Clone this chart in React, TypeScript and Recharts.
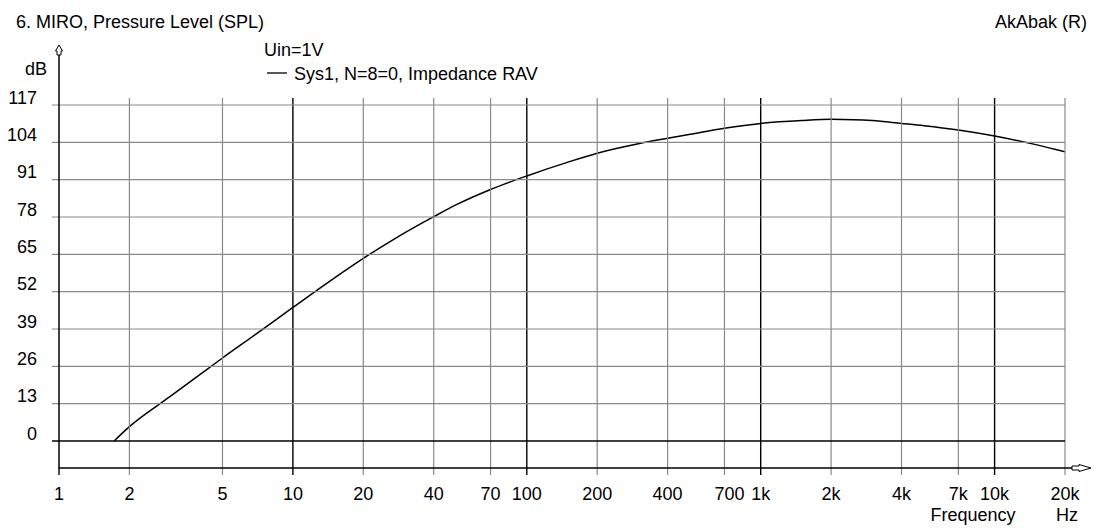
import * as React from 'react';
import { LineChart, Line, XAxis, YAxis } from 'recharts';

// frequency response (Hz, dB)
const freqs = [1.72, 2, 3, 4, 5, 7, 10, 14, 20, 28, 40, 50, 70, 100, 150, 200, 300, 400, 500, 700, 1000, 1500, 2000, 2500, 3000, 4000, 5000, 7000, 10000, 15000, 20000];
const spl = [0, 5.0, 15.6, 23.1, 28.9, 37.4, 46.5, 55.0, 63.6, 71.0, 78.1, 82.3, 87.6, 92.3, 97.1, 100.2, 103.5, 105.4, 106.8, 108.9, 110.6, 111.6, 112.0, 111.9, 111.6, 110.6, 109.8, 108.3, 106.2, 103.2, 100.7];

const xTicks = [1, 2, 5, 10, 20, 40, 70, 100, 200, 400, 700, 1000, 2000, 4000, 7000, 10000, 20000];
const xTickLabels = ['1', '2', '5', '10', '20', '40', '70', '100', '200', '400', '700', '1k', '2k', '4k', '7k', '10k', '20k'];
const decades = [10, 100, 1000, 10000];
const yTicks = [0, 13, 26, 39, 52, 65, 78, 91, 104, 117];

const data = freqs.map((f, i) => ({ f, db: spl[i] }));

const W = 1094;
const H = 528;
const LEFT = 59;
const RIGHT = 1065;
const TOP = 105;
const BOTTOM = 468;
const FONT = '"Liberation Sans", Arial, sans-serif';
const GRAY = '#8a8a8a';

const XTick = (props: any) => {
    const { x, payload } = props;
    const v = payload.value;
    const i = xTicks.indexOf(v);
    const dark = decades.includes(v);
    return (
        <g>
            {v !== 1 && <line x1={x} x2={x} y1={TOP - 7} y2={BOTTOM + 7} stroke={dark ? '#000' : GRAY} strokeWidth={dark ? 1.4 : 1.2} />}
            {v === 1 && <line x1={x} x2={x} y1={BOTTOM} y2={BOTTOM + 7} stroke="#000" strokeWidth={1.4} />}
            <text x={v === 700 ? x + 5 : x} y={500} textAnchor="middle" fontSize={18} fontFamily={FONT} fill="#000">{xTickLabels[i]}</text>
        </g>
    );
};

const YTick = (props: any) => {
    const { y, payload } = props;
    const v = payload.value;
    return (
        <g>
            <line x1={LEFT - 7} x2={RIGHT} y1={y} y2={y} stroke={v === 0 ? '#000' : GRAY} strokeWidth={v === 0 ? 1.4 : 1.2} />
            <text x={37} y={y - 1.5} textAnchor="end" fontSize={18} fontFamily={FONT} fill="#000">{v}</text>
        </g>
    );
};

const App: React.FC = () => {
    return (
        <div style={{ position: 'relative', width: W, height: H, background: '#fff' }}>
            <style>{'body{margin:0}'}</style>
            <LineChart width={W} height={H} data={data} margin={{ top: TOP, right: W - RIGHT, bottom: 0, left: 0 }}>
                <XAxis dataKey="f" type="number" scale="log" domain={[1, 20000]} ticks={xTicks} interval={0}
                    allowDataOverflow height={H - BOTTOM} tickLine={false} axisLine={false} tick={<XTick />} />
                <YAxis type="number" domain={[-9.4, 117]} ticks={yTicks} interval={0} allowDataOverflow
                    width={LEFT} tickLine={false} axisLine={false} tick={<YTick />} />
                <Line dataKey="db" type="monotone" stroke="#000" strokeWidth={1.5} dot={false} isAnimationActive={false} />
            </LineChart>
            <svg width={W} height={H} style={{ position: 'absolute', left: 0, top: 0, pointerEvents: 'none' }}>
                {/* axes with open arrows */}
                <line x1={LEFT} x2={LEFT} y1={54} y2={BOTTOM + 0.5} stroke="#000" strokeWidth={1.5} />
                <polygon points="59,45 62.5,51 61,51 61,55 57,55 57,51 55.5,51" fill="#fff" stroke="#000" strokeWidth={1} />
                <line x1={LEFT} x2={1080} y1={BOTTOM} y2={BOTTOM} stroke="#000" strokeWidth={1.5} />
                <polygon points="1072,466 1079,466 1079,464.5 1091,468 1079,471.5 1079,470 1072,470" fill="#fff" stroke="#000" strokeWidth={1} />
                <g fontFamily={FONT} fontSize={18} fill="#000">
                    <text x={16} y={28}>6. MIRO, Pressure Level (SPL)</text>
                    <text x={1087} y={28} textAnchor="end">AkAbak (R)</text>
                    <text x={25} y={75}>dB</text>
                    <text x={264} y={56}>Uin=1V</text>
                    <line x1={267} x2={287} y1={73} y2={73} stroke="#000" strokeWidth={1.3} />
                    <text x={294} y={80}>Sys1, N=8=0, Impedance RAV</text>
                    <text x={973} y={521} textAnchor="middle">Frequency</text>
                    <text x={1067} y={521} textAnchor="middle">Hz</text>
                </g>
            </svg>
        </div>
    );
};

export default App;
